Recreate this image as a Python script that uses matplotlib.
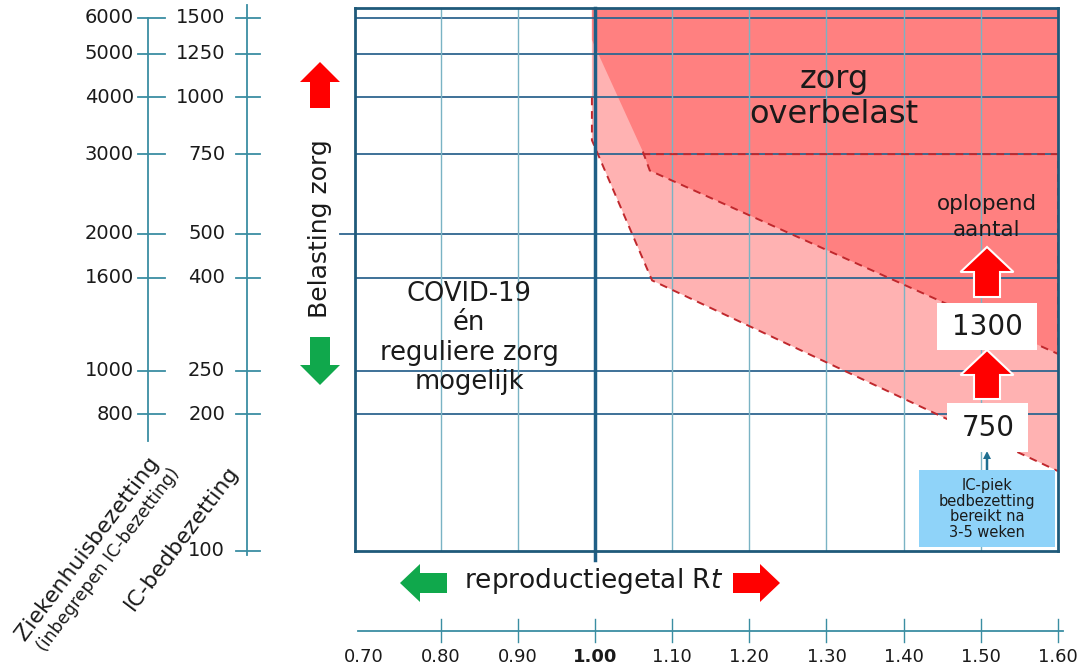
import matplotlib as mpl
mpl.use('Agg')
import matplotlib.pyplot as plt
from matplotlib import transforms
from matplotlib.patches import Rectangle, FancyArrow

# reproductiegetal Rt (x) and IC-bedbezetting (y, log)
rt_ticks = [0.70, 0.80, 0.90, 1.00, 1.10, 1.20, 1.30, 1.40, 1.50, 1.60]
rt_grid = [0.80, 0.90, 1.10, 1.20, 1.30, 1.40, 1.50]
ic_ticks = [1500, 1250, 1000, 750, 500, 400, 250, 200, 100]
zh_ticks = [6000, 5000, 4000, 3000, 2000, 1600, 1000, 800]
grid_ic = [1500, 1250, 1000, 750, 500, 400, 250, 200]

# zone "zorg overbelast" (dark) and transition zone (light)
over_rt = [0.996, 0.996, 1.062, 1.071, 1.60, 1.60]
over_ic = [1575, 1340, 760, 690, 272, 1575]
trans_rt = [0.996, 0.996, 1.074, 1.60, 1.60]
trans_ic = [1575, 805, 395, 150, 1575]

# dashed borders
over_edge_rt = [1.062, 1.071, 1.60, 1.60, 1.062]
over_edge_ic = [760, 690, 272, 750, 750]
trans_edge_rt = [0.996, 0.996, 1.074, 1.60]
trans_edge_ic = [1000, 805, 395, 150]

W, H = 1092, 672
fig = plt.figure(figsize=(W / 100, H / 100), dpi=100)
plt.rcParams['font.family'] = 'DejaVu Sans'

GRID_H = '#2f6690'
GRID_V = '#7ab3c4'
AXC = '#3a8ea2'
TXT = '#1a1a1a'
DASH = '#c0282d'


def px(x, y):
    return x / 100.0, (H - y) / 100.0


ax = fig.add_axes([355 / W, 1 - 551 / H, (1058 - 355) / W, (551 - 8) / H])
ax.set_yscale('log')
ax.tick_params(which='both', length=0, labelleft=False, labelbottom=False)
ax.set_xticks([])
ax.set_yticks([])
ax.set_yticks([], minor=True)
for s in ax.spines.values():
    s.set_color('#1f5a7a')
    s.set_linewidth(2)
    s.set_zorder(6)

ax.fill(trans_rt, trans_ic, color='#ffb2b2', lw=0, zorder=1)
ax.fill(over_rt, over_ic, color='#ff8080', lw=0, zorder=1.5)

for v in grid_ic:
    ax.axhline(v, color=GRID_H, lw=1.3, zorder=3)
for x in rt_grid:
    ax.axvline(x, color=GRID_V, lw=1.0, zorder=3)
ax.axhline(500, xmin=-0.022, xmax=0, color=GRID_H, lw=1.3, clip_on=False)
ax.axvline(1.00, ymin=-0.017, ymax=1, color='#1f5f86', lw=2.5, zorder=4, clip_on=False)

ax.plot(over_edge_rt, over_edge_ic, color=DASH, lw=1.4, ls=(0, (4, 3)), zorder=3.5)
ax.plot(trans_edge_rt, trans_edge_ic, color=DASH, lw=1.4, ls=(0, (4, 3)), zorder=3.5)

# left scales
ty = transforms.blended_transform_factory(fig.dpi_scale_trans, ax.transData)
ax.plot([1.48, 1.48], [175, 1500], color=AXC, lw=1.3, transform=ty, clip_on=False)
ax.plot([2.47, 2.47], [98, 1600], color=AXC, lw=1.3, transform=ty, clip_on=False)
for z in zh_ticks:
    ax.plot([1.38, 1.65], [z / 4, z / 4], color=AXC, lw=1.3, transform=ty, clip_on=False)
    ax.text(1.34, z / 4, str(z), transform=ty, ha='right', va='center',
            fontsize=14, color=TXT)
for v in ic_ticks:
    ax.plot([2.36, 2.60], [v, v], color=AXC, lw=1.3, transform=ty, clip_on=False)
    ax.text(2.25, v, str(v), transform=ty, ha='right', va='center',
            fontsize=14, color=TXT)

# bottom scale
tx = transforms.blended_transform_factory(ax.transData, fig.dpi_scale_trans)
ax.plot([0.693, 1.606], [0.41, 0.41], color=AXC, lw=1.3, transform=tx, clip_on=False)
for r in rt_ticks:
    if r > 0.75:
        ax.plot([r, r], [0.30, 0.53], color=AXC, lw=1.0, transform=tx, clip_on=False)
    ax.text(r, 0.15, '%.2f' % r, transform=tx, ha='center', va='center', fontsize=13,
            color=TXT, fontweight='bold' if r == 1.00 else 'normal')

ax.set_xlim(0.689, 1.60)
ax.set_ylim(100, 1575)

# axis titles
fig.text(*px(87, 548), 'Ziekenhuisbezetting', transform=fig.dpi_scale_trans, rotation=53,
         rotation_mode='anchor', ha='center', va='center', fontsize=15.8, color=TXT)
fig.text(*px(108, 560), '(inbegrepen IC-bezetting)', transform=fig.dpi_scale_trans, rotation=53,
         rotation_mode='anchor', ha='center', va='center', fontsize=12.5, color=TXT)
fig.text(*px(182, 538), 'IC-bedbezetting', transform=fig.dpi_scale_trans, rotation=53,
         rotation_mode='anchor', ha='center', va='center', fontsize=15.8, color=TXT)
fig.text(*px(320, 229), 'Belasting zorg', transform=fig.dpi_scale_trans, rotation=90,
         ha='center', va='center', fontsize=18, color=TXT)
fig.text(*px(594, 581), r'reproductiegetal R$\mathit{t}$', transform=fig.dpi_scale_trans,
         ha='center', va='center', fontsize=19, color=TXT)


def arrow(x0, y0, x1, y1, body, head, hlen, color, ec='none', lw=0, z=5):
    a0 = px(x0, y0)
    a1 = px(x1, y1)
    p = FancyArrow(a0[0], a0[1], a1[0] - a0[0], a1[1] - a0[1], width=body / 100,
                   head_width=head / 100, head_length=hlen / 100, length_includes_head=True,
                   transform=fig.dpi_scale_trans, fc=color, ec=ec, lw=lw, zorder=z)
    fig.add_artist(p)


RED = '#ff0000'
GREEN = '#10a84c'
arrow(320, 108, 320, 62, 20, 40, 20, RED)
arrow(320, 337, 320, 385, 20, 40, 20, GREEN)
arrow(447, 583, 400, 583, 20, 38, 20, GREEN)
arrow(733, 583, 780, 583, 20, 38, 20, RED)
arrow(987, 297, 987, 247, 26, 53, 25, RED, ec='white', lw=1.5)
arrow(987, 399, 987, 350, 26, 53, 25, RED, ec='white', lw=1.5)
arrow(987, 470, 987, 451, 2.5, 8, 8, '#1f6f90')

# boxes
for (x0, y0, x1, y1, fc) in [(937, 303, 1037, 350, 'white'), (947, 403, 1028, 452, 'white'),
                             (919, 470, 1055, 547, '#8fd3f9')]:
    bl = px(x0, y1)
    fig.add_artist(Rectangle(bl, (x1 - x0) / 100, (y1 - y0) / 100, transform=fig.dpi_scale_trans,
                             fc=fc, ec='none', zorder=5))

fig.text(*px(987, 327), '1300', transform=fig.dpi_scale_trans, ha='center', va='center',
         fontsize=20, color=TXT, zorder=6)
fig.text(*px(988, 428), '750', transform=fig.dpi_scale_trans, ha='center', va='center',
         fontsize=20, color=TXT, zorder=6)
fig.text(*px(987, 509), 'IC-piek\nbedbezetting\nbereikt na\n3-5 weken', transform=fig.dpi_scale_trans,
         ha='center', va='center', fontsize=10.5, linespacing=1.05, color=TXT, zorder=6)

fig.text(*px(987, 217), 'oplopend\naantal', transform=fig.dpi_scale_trans, ha='center',
         va='center', fontsize=15.5, linespacing=1.4, color=TXT, zorder=6)
fig.text(*px(834, 97), 'zorg\noverbelast', transform=fig.dpi_scale_trans, ha='center',
         va='center', fontsize=23, linespacing=1.16, color=TXT, zorder=6)
fig.text(*px(469, 338), 'COVID-19\nén\nreguliere zorg\nmogelijk', transform=fig.dpi_scale_trans,
         ha='center', va='center', fontsize=18.5, linespacing=1.16, color=TXT, zorder=6)

fig.savefig('out.png', dpi=100)
